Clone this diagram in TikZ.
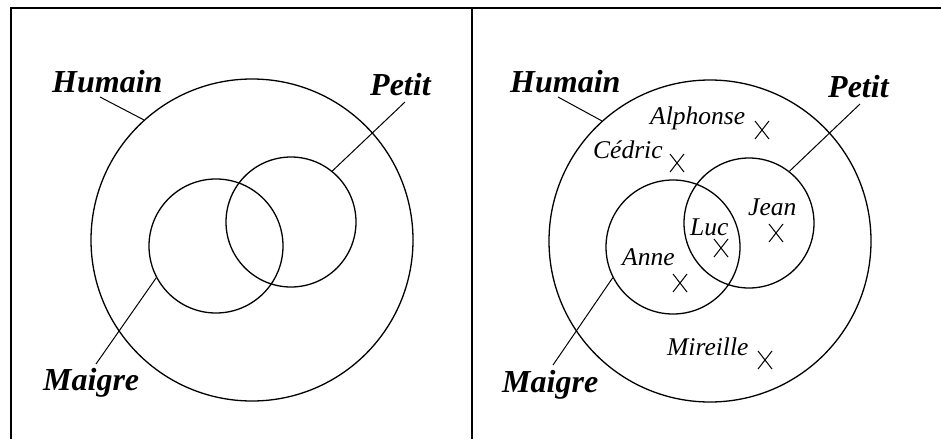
\documentclass[tikz,border=0pt]{standalone}
\usepackage{fontspec}
\setmainfont{Liberation Serif}
\usetikzlibrary{shapes.misc}
\begin{document}
\begin{tikzpicture}[x=1pt,y=-1pt,
  frameline/.style={line width=2pt},
  setc/.style={circle,draw,line width=1.3pt,inner sep=0pt},
  lead/.style={line width=1pt},
  setlabel/.style={anchor=base west,inner sep=0pt,font=\fontsize{32}{32}\selectfont\bfseries\itshape},
  namelabel/.style={anchor=base west,inner sep=0pt,font=\fontsize{25.5}{25.5}\selectfont\itshape},
  xmark/.style={cross out,draw,line width=1pt,minimum width=13pt,minimum height=17pt,inner sep=0pt}]
\useasboundingbox (0,0) rectangle (941,439);
% frame
\coordinate (tl) at (11,7.5);
\coordinate (tr) at (941,7.5);
\coordinate (bl) at (11,439);
\coordinate (dt) at (472,7.5);
\coordinate (db) at (472,439);
\draw[frameline] (bl) -- (tl) -- (tr);
\draw[frameline] (dt) -- (db);
% ---------- left panel ----------
\node[setc,minimum size=322pt] (H1) at (252,240) {};
\node[setc,minimum size=134pt] (M1) at (216,246) {};
\node[setc,minimum size=130pt] (P1) at (291,222) {};
\node[setlabel] (LH1) at (52,92) {Humain};
\node[setlabel] (LP1) at (370,95) {Petit};
\node[setlabel] (LM1) at (43,390) {Maigre};
\coordinate (cH1) at (100,97);
\coordinate (cP1) at (405,102);
\coordinate (cM1) at (96,364);
\draw[lead] (cH1) -- (H1.132);
\draw[lead] (cP1) -- (P1.51);
\draw[lead] (cM1) -- (M1.208);
% ---------- right panel ----------
\node[setc,minimum size=322pt] (H2) at (710,241) {};
\node[setc,minimum size=134pt] (M2) at (673,247) {};
\node[setc,minimum size=130pt] (P2) at (749,223) {};
\node[setlabel] (LH2) at (510,92) {Humain};
\node[setlabel] (LP2) at (828,97) {Petit};
\node[setlabel] (LM2) at (502,392) {Maigre};
\coordinate (cH2) at (558,97);
\coordinate (cP2) at (860,104);
\coordinate (cM2) at (553,365);
\draw[lead] (cH2) -- (H2.132);
\draw[lead] (cP2) -- (P2.52);
\draw[lead] (cM2) -- (M2.207);
% names and marks
\node[namelabel] (nA) at (650,124) {Alphonse};
\node[xmark] (xA) at (762,130) {};
\node[namelabel] (nC) at (593,158) {Cédric};
\node[xmark] (xC) at (677,163) {};
\node[namelabel] (nJ) at (748,215) {Jean};
\node[xmark] (xJ) at (776,233) {};
\node[namelabel] (nL) at (690,235) {Luc};
\node[xmark] (xL) at (721,248) {};
\node[namelabel] (nN) at (622,265) {Anne};
\node[xmark] (xN) at (680,283) {};
\node[namelabel] (nM) at (667,355) {Mireille};
\node[xmark] (xM) at (765,360) {};
\end{tikzpicture}
\end{document}
